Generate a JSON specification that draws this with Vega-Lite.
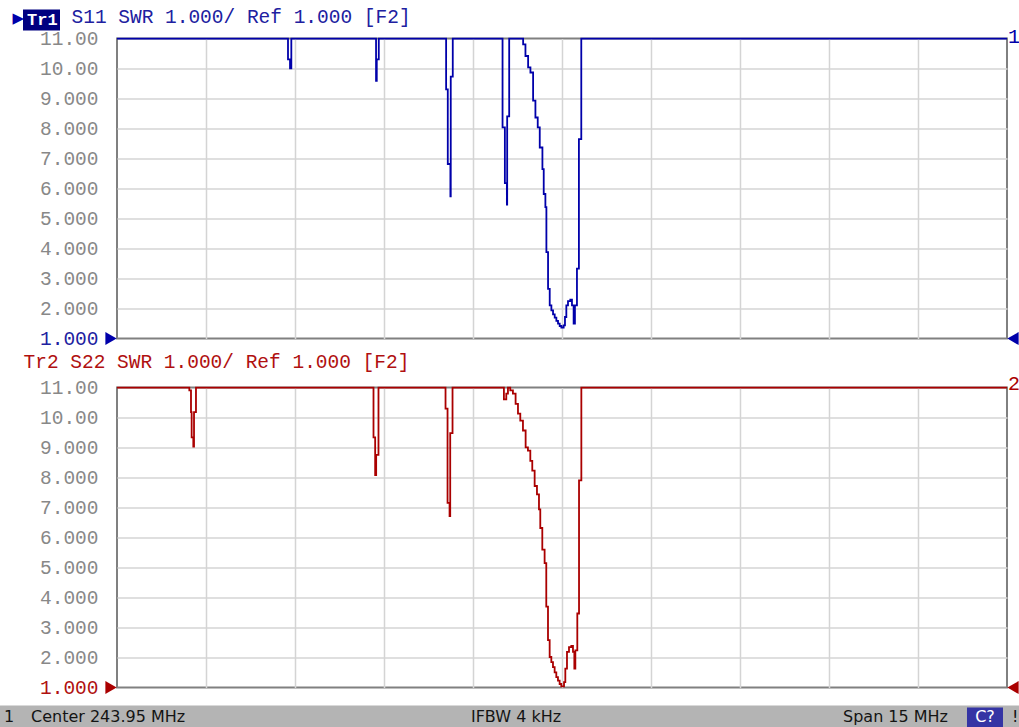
{
  "$schema": "https://vega.github.io/schema/vega-lite/v6.json",
  "background": "white",
  "padding": {"left": 0, "top": 5.6, "right": 0, "bottom": 0},
  "spacing": 49,
  "bounds": "flush",
  "config": {
    "view": {"stroke": "#808080", "strokeWidth": 2},
    "axis": {"labelFont": "Liberation Mono", "labelFontSize": 19.5}
  },
  "datasets": {
    "s11": [
      {"trace": "Tr1", "f": 236.45, "v": 11},
      {"trace": "Tr1", "f": 239.332, "v": 10.31},
      {"trace": "Tr1", "f": 239.366, "v": 10.01},
      {"trace": "Tr1", "f": 239.388, "v": 11},
      {"trace": "Tr1", "f": 240.816, "v": 9.59},
      {"trace": "Tr1", "f": 240.828, "v": 10.31},
      {"trace": "Tr1", "f": 240.862, "v": 11},
      {"trace": "Tr1", "f": 241.997, "v": 9.31},
      {"trace": "Tr1", "f": 242.025, "v": 6.82},
      {"trace": "Tr1", "f": 242.069, "v": 5.74},
      {"trace": "Tr1", "f": 242.075, "v": 9.73},
      {"trace": "Tr1", "f": 242.109, "v": 11},
      {"trace": "Tr1", "f": 242.948, "v": 8.04},
      {"trace": "Tr1", "f": 242.987, "v": 6.18},
      {"trace": "Tr1", "f": 243.021, "v": 5.47},
      {"trace": "Tr1", "f": 243.026, "v": 8.41},
      {"trace": "Tr1", "f": 243.06, "v": 11},
      {"trace": "Tr1", "f": 243.295, "v": 10.81},
      {"trace": "Tr1", "f": 243.334, "v": 10.42},
      {"trace": "Tr1", "f": 243.379, "v": 10.04},
      {"trace": "Tr1", "f": 243.418, "v": 9.87},
      {"trace": "Tr1", "f": 243.463, "v": 8.93},
      {"trace": "Tr1", "f": 243.502, "v": 8.37},
      {"trace": "Tr1", "f": 243.541, "v": 8.04},
      {"trace": "Tr1", "f": 243.575, "v": 7.37},
      {"trace": "Tr1", "f": 243.62, "v": 6.65},
      {"trace": "Tr1", "f": 243.642, "v": 5.82},
      {"trace": "Tr1", "f": 243.67, "v": 5.38},
      {"trace": "Tr1", "f": 243.687, "v": 3.88},
      {"trace": "Tr1", "f": 243.715, "v": 2.66},
      {"trace": "Tr1", "f": 243.743, "v": 2.11},
      {"trace": "Tr1", "f": 243.771, "v": 1.94},
      {"trace": "Tr1", "f": 243.799, "v": 1.81},
      {"trace": "Tr1", "f": 243.827, "v": 1.7},
      {"trace": "Tr1", "f": 243.855, "v": 1.59},
      {"trace": "Tr1", "f": 243.883, "v": 1.5},
      {"trace": "Tr1", "f": 243.911, "v": 1.42},
      {"trace": "Tr1", "f": 243.939, "v": 1.37},
      {"trace": "Tr1", "f": 243.978, "v": 1.44},
      {"trace": "Tr1", "f": 244.0, "v": 1.72},
      {"trace": "Tr1", "f": 244.023, "v": 2.11},
      {"trace": "Tr1", "f": 244.051, "v": 2.25},
      {"trace": "Tr1", "f": 244.09, "v": 2.3},
      {"trace": "Tr1", "f": 244.118, "v": 2.11},
      {"trace": "Tr1", "f": 244.146, "v": 1.5},
      {"trace": "Tr1", "f": 244.168, "v": 2.11},
      {"trace": "Tr1", "f": 244.202, "v": 3.33},
      {"trace": "Tr1", "f": 244.235, "v": 7.65},
      {"trace": "Tr1", "f": 244.275, "v": 11},
      {"trace": "Tr1", "f": 251.45, "v": 11}
    ],
    "s22": [
      {"trace": "Tr2", "f": 236.45, "v": 11},
      {"trace": "Tr2", "f": 237.669, "v": 10.91},
      {"trace": "Tr2", "f": 237.697, "v": 10.18},
      {"trace": "Tr2", "f": 237.708, "v": 9.34},
      {"trace": "Tr2", "f": 237.736, "v": 9.03},
      {"trace": "Tr2", "f": 237.748, "v": 10.18},
      {"trace": "Tr2", "f": 237.781, "v": 11},
      {"trace": "Tr2", "f": 240.773, "v": 9.34},
      {"trace": "Tr2", "f": 240.801, "v": 8.08},
      {"trace": "Tr2", "f": 240.818, "v": 8.76},
      {"trace": "Tr2", "f": 240.857, "v": 11},
      {"trace": "Tr2", "f": 241.987, "v": 10.3},
      {"trace": "Tr2", "f": 242.021, "v": 7.16},
      {"trace": "Tr2", "f": 242.055, "v": 6.72},
      {"trace": "Tr2", "f": 242.066, "v": 9.48},
      {"trace": "Tr2", "f": 242.105, "v": 11},
      {"trace": "Tr2", "f": 242.971, "v": 10.61},
      {"trace": "Tr2", "f": 243.011, "v": 10.8},
      {"trace": "Tr2", "f": 243.039, "v": 11},
      {"trace": "Tr2", "f": 243.078, "v": 10.91},
      {"trace": "Tr2", "f": 243.123, "v": 10.8},
      {"trace": "Tr2", "f": 243.168, "v": 10.46},
      {"trace": "Tr2", "f": 243.208, "v": 10.13},
      {"trace": "Tr2", "f": 243.247, "v": 9.9},
      {"trace": "Tr2", "f": 243.292, "v": 9.57},
      {"trace": "Tr2", "f": 243.337, "v": 9.01},
      {"trace": "Tr2", "f": 243.376, "v": 8.9},
      {"trace": "Tr2", "f": 243.416, "v": 8.56},
      {"trace": "Tr2", "f": 243.449, "v": 8.23},
      {"trace": "Tr2", "f": 243.489, "v": 7.72},
      {"trace": "Tr2", "f": 243.528, "v": 7.44},
      {"trace": "Tr2", "f": 243.562, "v": 6.94},
      {"trace": "Tr2", "f": 243.584, "v": 6.32},
      {"trace": "Tr2", "f": 243.618, "v": 5.6},
      {"trace": "Tr2", "f": 243.657, "v": 5.15},
      {"trace": "Tr2", "f": 243.685, "v": 3.7},
      {"trace": "Tr2", "f": 243.714, "v": 2.58},
      {"trace": "Tr2", "f": 243.742, "v": 2.02},
      {"trace": "Tr2", "f": 243.77, "v": 1.85},
      {"trace": "Tr2", "f": 243.798, "v": 1.68},
      {"trace": "Tr2", "f": 243.826, "v": 1.51},
      {"trace": "Tr2", "f": 243.854, "v": 1.35},
      {"trace": "Tr2", "f": 243.882, "v": 1.23},
      {"trace": "Tr2", "f": 243.91, "v": 1.12},
      {"trace": "Tr2", "f": 243.938, "v": 1.04},
      {"trace": "Tr2", "f": 243.984, "v": 1.18},
      {"trace": "Tr2", "f": 244.006, "v": 1.63},
      {"trace": "Tr2", "f": 244.034, "v": 2.19},
      {"trace": "Tr2", "f": 244.068, "v": 2.35},
      {"trace": "Tr2", "f": 244.107, "v": 2.39},
      {"trace": "Tr2", "f": 244.135, "v": 2.19},
      {"trace": "Tr2", "f": 244.158, "v": 1.63},
      {"trace": "Tr2", "f": 244.175, "v": 2.24},
      {"trace": "Tr2", "f": 244.208, "v": 3.47},
      {"trace": "Tr2", "f": 244.237, "v": 7.91},
      {"trace": "Tr2", "f": 244.276, "v": 11},
      {"trace": "Tr2", "f": 251.45, "v": 11}
    ]
  },
  "vconcat": [
    {
      "width": 890,
      "height": 300,
      "encoding": {
        "x": {"field": "f", "type": "quantitative", "scale": {"domain": [236.45, 251.45], "nice": false, "zero": false},
          "axis": {"values": [237.95, 239.45, 240.95, 242.45, 243.95, 245.45, 246.95, 248.45, 249.95], "grid": true, "gridColor": "#d4d4d4", "gridWidth": 1.5, "labels": false, "ticks": false, "domain": false,
            "title": "S11 SWR 1.000/ Ref 1.000 [F2]", "titleX": -46, "titleY": -316, "titleAlign": "left", "titleAnchor": "start", "titleBaseline": "alphabetic", "titleFont": "Liberation Mono", "titleFontSize": 19.5, "titleFontWeight": "normal", "titleColor": "#2020a0"}},
        "y": {"field": "v", "type": "quantitative", "scale": {"domain": [1, 11], "nice": false, "zero": false},
          "axis": {"values": [1, 2, 3, 4, 5, 6, 7, 8, 9, 10, 11], "grid": true, "gridColor": "#d4d4d4", "gridWidth": 1.5,
            "gridOpacity": {"condition": {"test": "datum.value == 1 || datum.value == 11", "value": 0}, "value": 1},
            "ticks": false, "domain": false, "labelExpr": "format(datum.value, '.4r')", "labelPadding": 19, "labelBaseline": "middle", "labelFlush": false,
            "labelColor": {"condition": {"test": "datum.value == 1", "value": "#2020a0"}, "value": "#888888"},
            "title": "▶", "titleAngle": 0, "titleX": -105, "titleY": -21, "titleAlign": "left", "titleBaseline": "middle", "titleFont": "DejaVu Sans", "titleFontSize": 15, "titleFontWeight": "normal", "titleColor": "#0000aa"}}
      },
      "layer": [
        {
          "data": {"name": "s11"},
          "mark": {"type": "line", "interpolate": "step-after", "strokeWidth": 1.8, "clip": false},
          "encoding": {
            "color": {"field": "trace", "type": "nominal", "scale": {"range": ["#0000aa"]},
              "legend": {"orient": "none", "legendX": -94, "legendY": -29, "title": null, "fillColor": "#000080", "strokeColor": null, "padding": 2, "symbolType": "square", "symbolSize": 0, "symbolOpacity": 0, "symbolStrokeWidth": 0, "labelOffset": -15, "labelFont": "Liberation Mono", "labelFontSize": 17, "labelFontWeight": "bold", "labelColor": "white"}}
          }
        },
        {
          "data": {"values": [{"f": 236.45, "v": 1}]},
          "mark": {"type": "point", "shape": "triangle-right", "filled": true, "size": 170, "opacity": 1, "color": "#0000aa", "xOffset": -6}
        },
        {
          "data": {"values": [{"f": 251.45, "v": 1}]},
          "mark": {"type": "point", "shape": "triangle-left", "filled": true, "size": 170, "opacity": 1, "color": "#0000aa", "xOffset": 6}
        },
        {
          "data": {"values": [{"f": 251.45, "v": 11, "label": "1"}]},
          "mark": {"type": "text", "align": "left", "baseline": "middle", "dx": 1, "dy": -2, "font": "Liberation Mono", "fontSize": 20, "color": "#0000aa"},
          "encoding": {"text": {"field": "label"}}
        }
      ]
    },
    {
      "spacing": 18,
      "bounds": "flush",
      "vconcat": [
        {
          "width": 890,
          "height": 300,
          "encoding": {
            "x": {"field": "f", "type": "quantitative", "scale": {"domain": [236.45, 251.45], "nice": false, "zero": false},
              "axis": {"values": [237.95, 239.45, 240.95, 242.45, 243.95, 245.45, 246.95, 248.45, 249.95], "grid": true, "gridColor": "#d4d4d4", "gridWidth": 1.5, "labels": false, "ticks": false, "domain": false,
                "title": "Tr2 S22 SWR 1.000/ Ref 1.000 [F2]", "titleX": -94, "titleY": -320, "titleAlign": "left", "titleAnchor": "start", "titleBaseline": "alphabetic", "titleFont": "Liberation Mono", "titleFontSize": 19.5, "titleFontWeight": "normal", "titleColor": "#b01010"}},
            "y": {"field": "v", "type": "quantitative", "scale": {"domain": [1, 11], "nice": false, "zero": false},
              "axis": {"values": [1, 2, 3, 4, 5, 6, 7, 8, 9, 10, 11], "grid": true, "gridColor": "#d4d4d4", "gridWidth": 1.5,
                "gridOpacity": {"condition": {"test": "datum.value == 1 || datum.value == 11", "value": 0}, "value": 1},
                "ticks": false, "domain": false, "labelExpr": "format(datum.value, '.4r')", "labelPadding": 19, "labelBaseline": "middle", "labelFlush": false,
                "labelColor": {"condition": {"test": "datum.value == 1", "value": "#b01010"}, "value": "#888888"},
                "title": null}}
          },
          "layer": [
            {
              "data": {"name": "s22"},
              "mark": {"type": "line", "interpolate": "step-after", "strokeWidth": 1.8, "clip": false, "color": "#aa0000"}
            },
            {
              "data": {"values": [{"f": 236.45, "v": 1}]},
              "mark": {"type": "point", "shape": "triangle-right", "filled": true, "size": 170, "opacity": 1, "color": "#aa0000", "xOffset": -6}
            },
            {
              "data": {"values": [{"f": 251.45, "v": 1}]},
              "mark": {"type": "point", "shape": "triangle-left", "filled": true, "size": 170, "opacity": 1, "color": "#aa0000", "xOffset": 6}
            },
            {
              "data": {"values": [{"f": 251.45, "v": 11, "label": "2"}]},
              "mark": {"type": "text", "align": "left", "baseline": "middle", "dx": 1, "dy": -4, "font": "Liberation Mono", "fontSize": 20, "color": "#aa0000"},
              "encoding": {"text": {"field": "label"}}
            }
          ]
        },
        {
          "width": 890,
          "height": 22,
          "view": {"stroke": null},
          "encoding": {
            "x": {"field": "f", "type": "quantitative", "scale": {"domain": [236.45, 251.45], "nice": false, "zero": false}, "axis": null}
          },
          "layer": [
            {
              "data": {"values": [{"f": 236.45, "f2": 251.45}]},
              "mark": {"type": "rect", "color": "#b4b4b4", "xOffset": -117, "x2Offset": 12},
              "encoding": {"x2": {"field": "f2"}}
            },
            {
              "data": {"values": [{"f": 251.45, "f2": 251.45}]},
              "mark": {"type": "rect", "color": "#3434a4", "xOffset": -40, "x2Offset": -4, "yOffset": 2, "y2Offset": -3},
              "encoding": {"x2": {"field": "f2"}}
            },
            {
              "data": {"values": [{"f": 236.45, "label": "1"}]},
              "mark": {"type": "text", "align": "left", "baseline": "middle", "dx": -113, "font": "DejaVu Sans", "fontSize": 16, "color": "#141414"},
              "encoding": {"text": {"field": "label"}}
            },
            {
              "data": {"values": [{"f": 236.45, "label": "Center 243.95 MHz"}]},
              "mark": {"type": "text", "align": "left", "baseline": "middle", "dx": -86, "font": "DejaVu Sans", "fontSize": 16, "color": "#141414"},
              "encoding": {"text": {"field": "label"}}
            },
            {
              "data": {"values": [{"f": 243.95, "label": "IFBW 4 kHz"}]},
              "mark": {"type": "text", "align": "center", "baseline": "middle", "dx": -46, "font": "DejaVu Sans", "fontSize": 16, "color": "#141414"},
              "encoding": {"text": {"field": "label"}}
            },
            {
              "data": {"values": [{"f": 251.45, "label": "Span 15 MHz"}]},
              "mark": {"type": "text", "align": "right", "baseline": "middle", "dx": -59, "font": "DejaVu Sans", "fontSize": 16, "color": "#141414"},
              "encoding": {"text": {"field": "label"}}
            },
            {
              "data": {"values": [{"f": 251.45, "label": "C?"}]},
              "mark": {"type": "text", "align": "center", "baseline": "middle", "dx": -22, "font": "DejaVu Sans", "fontSize": 16, "color": "white"},
              "encoding": {"text": {"field": "label"}}
            },
            {
              "data": {"values": [{"f": 251.45, "label": "!"}]},
              "mark": {"type": "text", "align": "left", "baseline": "middle", "dx": 5, "font": "DejaVu Sans", "fontSize": 16, "color": "#141414"},
              "encoding": {"text": {"field": "label"}}
            }
          ]
        }
      ]
    }
  ]
}
